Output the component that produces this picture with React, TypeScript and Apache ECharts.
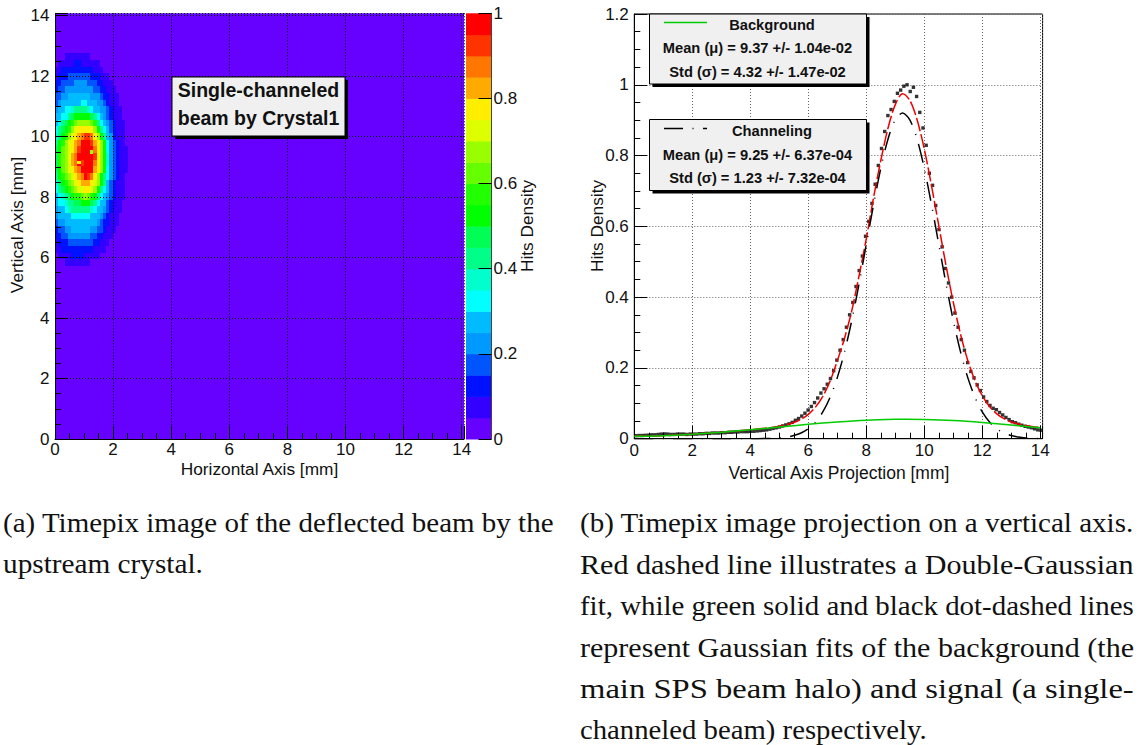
import React, { useEffect, useRef } from "react";
import * as echarts from "echarts";

const FONT = "'Liberation Sans', Arial, sans-serif";
const SERIF = "'Liberation Serif', serif";

// 20-level colour palette from the colour bar (bottom to top)
const palette = [
  "#6600ff", "#3300ff", "#0011ff", "#0055ff", "#0099ff", "#00bbff", "#00ffff", "#00ffcc", "#00ff88", "#00ff55",
  "#00ff00", "#22ff00", "#66ff00", "#99ff00", "#ddff00", "#ffee00", "#ffaa00", "#ff7700", "#ff3300", "#ff0000",
];

// Heat-map colour level per cell (base-20 digit); rows run top to bottom from y = 12.76 mm, columns from x = 0
const heatRows = [
  "00011111111000000000000",
  "01111122111111000000000",
  "11222222222211100000000",
  "12223333333222111000000",
  "22333344443332211100000",
  "23344444444433221110000",
  "33445555555444322111000",
  "34555555665554432111000",
  "45566788887655443211100",
  "556689aaaaa986543211100",
  "5689abcddddcb8654321110",
  "689abdefffffda865321110",
  "78abdefghiihfda85421110",
  "8abdefghjjjigfda6432110",
  "9acdefgijjjjhfda6432111",
  "9bcdeghjjjjjifda7432111",
  "9bcdeghjijjjhfda7432111",
  "9acdefghjjjjgfda6432111",
  "8abcdefghjihfda86432110",
  "78abcdefgggfeda85321110",
  "689abcdeeffeda865321110",
  "56789abbcdcba8654321110",
  "56678899aaa986553211100",
  "45567888888765543211100",
  "45555666666555432111000",
  "34455555555554322111000",
  "23344555555443321110000",
  "22334444444332211100000",
  "12223333333322111000000",
  "11222222222211110000000",
  "01111222211111000000000",
  "00011111111000000000000",
];
const hotCells = [
  [1.21, 9.55, 13],
  [0.77, 9.2, 15],
];

// Projection histogram (128 bins of 0.11 mm)
const projectionHits = [
  0.0085, 0.009, 0.009, 0.0095, 0.01, 0.011, 0.011, 0.012, 0.013, 0.0135,
  0.013, 0.012, 0.012, 0.013, 0.013, 0.013, 0.012, 0.013, 0.013, 0.013,
  0.014, 0.014, 0.015, 0.015, 0.016, 0.016, 0.016, 0.017, 0.017, 0.018,
  0.018, 0.019, 0.019, 0.02, 0.02, 0.02, 0.021, 0.021, 0.022, 0.023,
  0.024, 0.025, 0.027, 0.029, 0.031, 0.033, 0.036, 0.039, 0.042, 0.046,
  0.052, 0.057, 0.064, 0.072, 0.081, 0.091, 0.102, 0.115, 0.129, 0.141,
  0.154, 0.17, 0.192, 0.222, 0.25, 0.28, 0.315, 0.35, 0.385, 0.43,
  0.475, 0.516, 0.572, 0.614, 0.665, 0.719, 0.772, 0.82, 0.868, 0.913,
  0.93, 0.953, 0.976, 0.985, 0.996, 1.0, 0.981, 0.993, 0.967, 0.922,
  0.878, 0.829, 0.75, 0.716, 0.659, 0.591, 0.542, 0.481, 0.44, 0.4,
  0.355, 0.315, 0.28, 0.25, 0.215, 0.19, 0.172, 0.152, 0.136, 0.118,
  0.105, 0.094, 0.086, 0.082, 0.074, 0.067, 0.06, 0.054, 0.048, 0.045,
  0.041, 0.038, 0.035, 0.033, 0.031, 0.028, 0.025, 0.024,
];

const fitX = [
  0, 1, 2, 3, 4, 4.5, 4.75, 5, 5.25, 5.5, 5.75, 6, 6.25, 6.5, 6.75, 7, 7.25, 7.5, 7.75, 8, 8.25, 8.5, 8.75, 9, 9.25,
  9.5, 9.75, 10, 10.25, 10.5, 10.75, 11, 11.25, 11.5, 11.75, 12, 12.25, 12.5, 12.75, 13, 13.25, 13.5, 13.75, 14,
];
const doubleGaussFit = [
  0.007, 0.0084, 0.0128, 0.0185, 0.0254, 0.0295, 0.0315, 0.0353, 0.0395, 0.0456, 0.0548, 0.0686, 0.0893, 0.1196,
  0.1623, 0.2199, 0.2839, 0.362, 0.46, 0.565, 0.681, 0.786, 0.878, 0.944, 0.975, 0.9561, 0.9018, 0.8183,
  0.7146, 0.6018, 0.4894, 0.3855, 0.2951, 0.2211, 0.1637, 0.1213, 0.0909, 0.0702, 0.0565, 0.0474, 0.0413, 0.0372,
  0.034, 0.0315,
];
const channelingFit = [
  0, 0, 0, 0, 0, 0.0003, 0.001, 0.0023, 0.0046, 0.0088, 0.0161, 0.028, 0.047, 0.0756, 0.1166, 0.1726, 0.2453, 0.3343,
  0.4374, 0.549, 0.661, 0.7639, 0.847, 0.9011, 0.92, 0.9011, 0.847, 0.7639, 0.661, 0.549, 0.4374, 0.3343, 0.2453,
  0.1726, 0.1166, 0.0756, 0.047, 0.028, 0.0161, 0.0088, 0.0046, 0.0023, 0.001, 0.0005,
];
const backgroundX = [0, 1, 2, 3, 4, 5, 6, 7, 8, 9, 9.37, 10, 11, 12, 13, 14];
const backgroundFit = [
  0.007, 0.0084, 0.0128, 0.0185, 0.0254, 0.033, 0.0406, 0.0473, 0.0523, 0.0548, 0.055, 0.0544, 0.0512, 0.0457, 0.0386,
  0.031,
];

const captionA = ["(a) Timepix image of the deflected beam by the", "upstream crystal."];
const captionB = [
  "(b) Timepix image projection on a vertical axis.",
  "Red dashed line illustrates a Double-Gaussian",
  "fit, while green solid and black dot-dashed lines",
  "represent Gaussian fits of the background (the",
  "main SPS beam halo) and signal (a single-",
  "channeled beam) respectively.",
];
const captionAWidths = [551, 200];
const captionBWidths = [554, 554, 554, 554, 554, 347];
const captionAY = [523, 564];
const captionBY = [523, 565, 606, 648, 689, 730];

const axisText = { color: "#111", fontFamily: FONT, fontSize: 17 };
const tickStyle = { color: "#000", width: 1 };

function posAxis(gridIndex: number, max: number, interval: number, dotColor: string, margin: number, extra: any = {}) {
  return {
    type: "value",
    gridIndex,
    min: 0,
    max,
    interval,
    axisLine: { show: true, onZero: false, lineStyle: { color: "#000", width: 1 } },
    axisTick: { show: true, inside: true, length: 13, lineStyle: tickStyle },
    minorTick: { show: true, splitNumber: 4, length: 6, lineStyle: tickStyle },
    splitLine: { show: true, lineStyle: { type: [1, 2], color: dotColor, width: 1 } },
    axisLabel: { ...axisText, margin, showMaxLabel: max % interval < 1e-9 || interval - (max % interval) < 1e-9 },
    ...extra,
  };
}

function boxGraphics(x: number, y: number, w: number, h: number) {
  return [
    { type: "rect", z: 10, shape: { x: x + 3, y: y + 3, width: w, height: h }, style: { fill: "#000" }, silent: true },
    { type: "rect", z: 11, shape: { x, y, width: w, height: h }, style: { fill: "#f0f0f0", stroke: "#000", lineWidth: 1 }, silent: true },
  ];
}

function label(text: string, x: number, y: number, size: number, weight = "bold", rotation = 0) {
  return {
    type: "text",
    z: 12,
    x,
    y,
    rotation,
    silent: true,
    style: { text, fill: "#111", align: "center", verticalAlign: "middle", font: `${weight} ${size}px ${FONT}` },
  };
}

function captionLine(ctx: CanvasRenderingContext2D, text: string, x: number, y: number, width: number) {
  const font = `26.5px ${SERIF}`;
  ctx.font = font;
  const w = ctx.measureText(text).width;
  return {
    type: "text",
    z: 12,
    x,
    y,
    scaleX: width / w,
    silent: true,
    style: { text, fill: "#111", align: "left", verticalAlign: "middle", font },
  };
}

export default function App() {
  const ref = useRef<HTMLDivElement>(null);
  useEffect(() => {
    document.body.style.margin = "0";
    const chart = echarts.init(ref.current!, undefined, { renderer: "svg" });
    const ctx = document.createElement("canvas").getContext("2d")!;

    const cellW = 0.11;
    const cellH = 0.22;
    const heatData: number[][] = [];
    heatRows.forEach((row, r) => {
      const yTop = 14.08 - (6 + r) * cellH;
      row.split("").forEach((ch, c) => {
        const level = parseInt(ch, 20);
        if (level > 0) heatData.push([c * cellW, yTop, level, cellH]);
      });
    });
    hotCells.forEach(([x, y, level]) => heatData.push([x, y, level, 0.11]));

    const option: any = {
      animation: false,
      backgroundColor: "#fff",
      textStyle: { fontFamily: FONT },
      grid: [
        { left: 55, top: 13.3, width: 409, height: 425.7, show: true, backgroundColor: "#6600ff", borderColor: "#000", borderWidth: 0 },
        { left: 466, top: 13.3, width: 25.5, height: 425.7, show: false },
        { left: 634.3, top: 14, width: 408.3, height: 424.7, show: true, backgroundColor: "#fff", borderColor: "#000", borderWidth: 1 },
      ],
      xAxis: [
        posAxis(0, 14.08, 2, "#000", 2, { z: 3 }),
        { type: "value", gridIndex: 1, min: 0, max: 1, show: false },
        posAxis(2, 14.08, 2, "#666", 3),
      ],
      yAxis: [
        posAxis(0, 14.08, 2, "#000", 5.5, { z: 3 }),
        {
          type: "value",
          gridIndex: 1,
          min: 0,
          max: 1,
          interval: 0.2,
          position: "right",
          axisLine: { show: true, onZero: false, lineStyle: { color: "#444", width: 1 } },
          axisTick: { show: true, inside: true, length: 13, lineStyle: tickStyle },
          splitLine: { show: false },
          axisLabel: { ...axisText, margin: 2 },
          z: 3,
        },
        posAxis(2, 1.2, 0.2, "#666", 5.5),
      ],
      series: [
        {
          type: "custom",
          xAxisIndex: 0,
          yAxisIndex: 0,
          clip: true,
          silent: true,
          data: heatData,
          encode: { x: 0, y: 1 },
          renderItem: (_p: any, api: any) => {
            const x0 = api.value(0);
            const y0 = api.value(1);
            const a = api.coord([x0, y0]);
            const b = api.coord([x0 + cellW, y0 - api.value(3)]);
            const ax = Math.round(a[0]);
            const ay = Math.round(a[1]);
            return {
              type: "rect",
              shape: { x: ax, y: ay, width: Math.round(b[0]) - ax, height: Math.round(b[1]) - ay },
              style: { fill: palette[api.value(2)] },
            };
          },
        },
        {
          type: "custom",
          xAxisIndex: 1,
          yAxisIndex: 1,
          silent: true,
          data: palette.map((_c, i) => [i]),
          encode: { y: 0 },
          renderItem: (_p: any, api: any) => {
            const lv = api.value(0);
            const a = api.coord([0, (lv + 1) / 20]);
            const b = api.coord([1, lv / 20]);
            return {
              type: "rect",
              shape: { x: a[0], y: a[1], width: b[0] - a[0], height: b[1] - a[1] + 0.5 },
              style: { fill: palette[lv] },
            };
          },
        },
        {
          type: "scatter",
          xAxisIndex: 2,
          yAxisIndex: 2,
          symbol: "rect",
          symbolSize: 3.4,
          itemStyle: { color: "#000" },
          silent: true,
          z: 3,
          data: projectionHits.map((v, i) => [0.055 + 0.11 * i, v]),
        },
        {
          type: "line",
          xAxisIndex: 2,
          yAxisIndex: 2,
          showSymbol: false,
          smooth: 0.3,
          silent: true,
          z: 4,
          lineStyle: { color: "#ee0000", width: 1.5, type: [14, 3] },
          data: fitX.map((x, i) => [x, doubleGaussFit[i]]),
        },
        {
          type: "line",
          xAxisIndex: 2,
          yAxisIndex: 2,
          showSymbol: false,
          smooth: 0.3,
          silent: true,
          z: 5,
          lineStyle: { color: "#000", width: 1.5, type: [19, 9.5, 1, 9.5] },
          data: fitX.map((x, i) => [x, channelingFit[i]]),
        },
        {
          type: "line",
          xAxisIndex: 2,
          yAxisIndex: 2,
          showSymbol: false,
          smooth: 0.3,
          silent: true,
          z: 6,
          lineStyle: { color: "#00cc00", width: 1.5 },
          data: backgroundX.map((x, i) => [x, backgroundFit[i]]),
        },
      ],
      graphic: {
        elements: [
          ...boxGraphics(172, 77, 173, 59),
          label("Single-channeled", 258.5, 90, 19.5),
          label("beam by Crystal1", 258.5, 118, 19.5),
          ...boxGraphics(649.5, 14, 217, 70),
          { type: "line", z: 12, silent: true, shape: { x1: 664, y1: 22.5, x2: 707, y2: 22.5 }, style: { stroke: "#00cc00", lineWidth: 1.5 } },
          label("Background", 772, 25, 14.7),
          label("Mean (μ) = 9.37 +/- 1.04e-02", 757.5, 48, 14.7),
          label("Std (σ) = 4.32 +/- 1.47e-02", 757.5, 72, 14.7),
          ...boxGraphics(649.5, 119.5, 217, 71),
          { type: "line", z: 12, silent: true, shape: { x1: 664, y1: 128.5, x2: 707, y2: 128.5 }, style: { stroke: "#000", lineWidth: 1.5, lineDash: [19, 9.5, 1, 9.5] } },
          label("Channeling", 772, 131, 14.7),
          label("Mean (μ) = 9.25 +/- 6.37e-04", 757.5, 155, 14.7),
          label("Std (σ) = 1.23 +/- 7.32e-04", 757.5, 178, 14.7),
          label("Vertical Axis [mm]", 17, 225, 17.3, "normal", Math.PI / 2),
          label("Horizontal Axis [mm]", 259.5, 468.5, 17.3, "normal"),
          label("Hits Density", 527, 226, 17.3, "normal", Math.PI / 2),
          label("Hits Density", 597, 226, 17.3, "normal", Math.PI / 2),
          label("Vertical Axis Projection [mm]", 839, 473, 17.5, "normal"),
          ...captionA.map((t, i) => captionLine(ctx, t, 3, captionAY[i], captionAWidths[i])),
          ...captionB.map((t, i) => captionLine(ctx, t, 580, captionBY[i], captionBWidths[i])),
        ],
      },
    };
    chart.setOption(option);
    return () => chart.dispose();
  }, []);
  return <div ref={ref} style={{ position: "fixed", left: 0, top: 0, width: 1141, height: 745 }} />;
}
